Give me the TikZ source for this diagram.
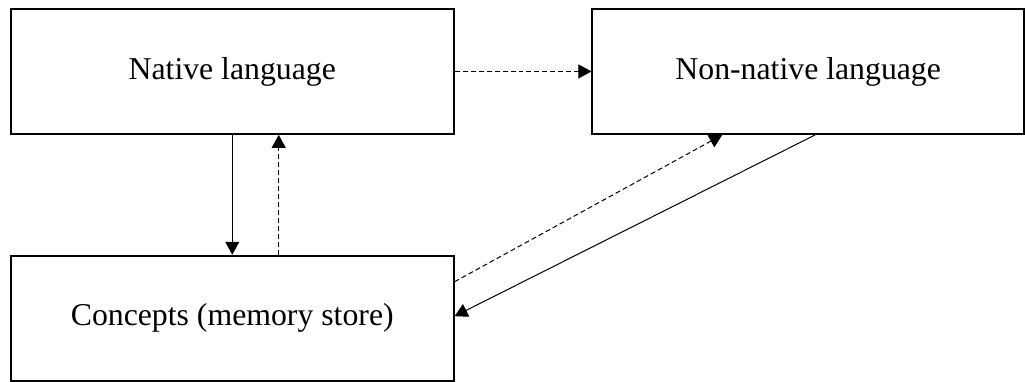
\documentclass[tikz,border=0pt]{standalone}
\usepackage{fontspec}
\setmainfont{Liberation Serif}
\usetikzlibrary{positioning,arrows.meta}

\begin{document}
\begin{tikzpicture}[
    box/.style={draw, line width=1pt, minimum height=62.5pt, inner sep=0pt,
      font=\fontsize{15.9}{19}\selectfont},
    link/.style={line width=0.5pt, -{Triangle[length=6.5pt,width=7pt]}},
    dashlink/.style={link, dash pattern=on 2.5pt off 1.5pt},
  ]
  \node [box, minimum width=221.5pt] (l1) {Native language};
  \node [box, minimum width=221.5pt, below=60pt of l1] (mem) {Concepts (memory store)};
  \node [box, minimum width=216pt, right=68.5pt of l1] (l2) {Non-native language};
  \useasboundingbox ([xshift=-5pt,yshift=4pt]l1.north west) rectangle ++(512.5pt,-190.5pt);
  \draw [link] (l1.south) -- (mem.north);
  \draw [dashlink] ([xshift=23.25pt]mem.north) -- ([xshift=23.25pt]l1.south);
  \draw [dashlink] (l1.east) -- (l2.west);
  \draw [dashlink] ([yshift=18.25pt]mem.east) -- ([xshift=-43pt]l2.south);
  \draw [link] ([xshift=3.5pt]l2.south) -- ([yshift=1pt]mem.east);
\end{tikzpicture}
\end{document}
